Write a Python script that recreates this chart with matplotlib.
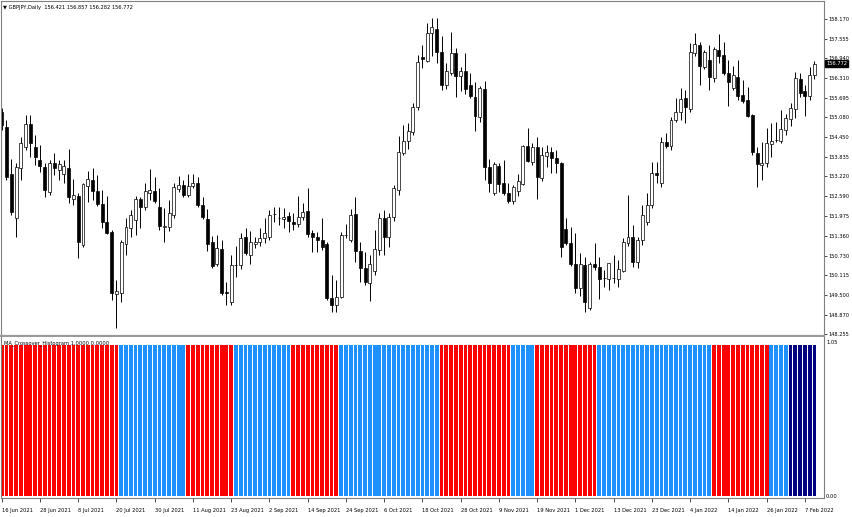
import numpy as np
import matplotlib
matplotlib.use("Agg")
import matplotlib.pyplot as plt

# --- 1. Data Setup (GBPJPY daily) ---
TITLE = "\u25bc GBPJPY,Daily  156.421 156.857 156.282 156.772"
IND_TITLE = "MA_Crossover_Histogram 1.0000 0.0000"

opens = [
    155.25, 154.77, 153.29, 151.91, 153.48, 154.14, 154.86, 154.14, 153.73, 153.51,
    152.73, 153.64, 153.42, 153.29, 153.48, 152.51, 152.60, 151.06, 152.92, 153.11,
    152.76, 152.35, 151.79, 151.47, 149.52, 149.55, 151.09, 151.60, 151.85, 152.51,
    152.26, 152.69, 152.76, 152.26, 151.63, 151.63, 152.00, 152.82, 152.95, 152.63,
    152.92, 153.01, 152.32, 151.88, 151.16, 150.47, 150.94, 149.58, 149.27, 150.43,
    150.43, 151.31, 150.75, 151.09, 151.16, 151.28, 151.31, 152.04, 151.91, 151.88,
    151.97, 151.79, 151.72, 151.94, 152.13, 151.44, 151.31, 151.22, 151.09, 149.39,
    149.17, 149.43, 151.38, 151.22, 152.04, 150.87, 150.34, 149.87, 150.24, 150.90,
    151.91, 151.31, 151.94, 152.79, 153.95, 154.33, 154.62, 155.40, 156.97, 156.85,
    157.73, 157.85, 157.13, 156.09, 156.47, 157.10, 156.38, 156.54, 156.09, 155.72,
    155.09, 155.97, 153.51, 152.69, 153.54, 153.01, 152.69, 152.45, 152.76, 152.98,
    154.18, 153.67, 154.14, 153.17, 153.86, 153.99, 153.80, 153.64, 151.56, 151.12,
    150.47, 149.71, 150.43, 149.08, 150.47, 150.37, 150.02, 149.99, 150.02, 149.99,
    150.24, 151.12, 151.31, 150.53, 151.22, 151.79, 152.32, 153.32, 153.01, 154.30,
    154.18, 154.99, 155.25, 155.68, 155.34, 157.10, 157.35, 156.66, 156.88, 156.32,
    157.19, 157.04, 156.47, 156.00, 156.35, 155.78, 155.62, 155.15, 153.95, 153.58,
    153.64, 154.24, 154.36, 154.33, 154.68, 155.03, 155.34, 156.28, 155.90, 155.75,
    156.421,
]
highs = [
    155.37, 154.99, 153.76, 153.64, 154.45, 155.15, 155.15, 154.52, 154.21, 153.64,
    153.73, 153.96, 153.73, 153.73, 154.08, 153.14, 152.69, 153.01, 153.39, 153.48,
    153.26, 152.79, 152.60, 151.53, 149.96, 151.22, 151.91, 152.16, 152.60, 152.57,
    153.01, 153.45, 153.20, 152.85, 152.23, 152.48, 153.01, 153.23, 153.11, 153.29,
    153.29, 153.20, 152.57, 152.19, 151.34, 151.38, 151.22, 149.90, 150.75, 151.03,
    151.44, 151.60, 151.50, 151.31, 151.60, 151.91, 152.16, 152.26, 152.26, 152.23,
    152.10, 152.07, 152.60, 152.38, 152.85, 151.53, 151.47, 151.91, 151.16, 150.12,
    149.96, 151.47, 151.72, 152.19, 152.57, 151.16, 150.84, 150.75, 151.53, 152.07,
    152.16, 152.07, 152.95, 154.49, 154.83, 154.90, 155.53, 157.04, 157.35, 158.05,
    158.20, 158.20, 157.63, 156.79, 157.76, 157.26, 156.66, 157.10, 156.47, 156.19,
    156.06, 156.22, 153.76, 153.67, 153.64, 153.73, 153.01, 152.95, 153.29, 154.21,
    154.74, 154.27, 154.46, 154.14, 154.21, 154.14, 154.05, 153.67, 151.91, 151.63,
    151.44, 150.81, 150.68, 150.53, 151.12, 150.68, 150.28, 150.50, 150.75, 150.59,
    151.28, 152.63, 151.69, 151.31, 152.32, 152.69, 153.67, 153.67, 154.46, 154.58,
    155.09, 155.68, 156.00, 155.94, 157.41, 157.73, 157.45, 157.19, 157.35, 157.29,
    157.70, 157.45, 156.88, 156.69, 156.88, 156.25, 156.03, 155.18, 154.14, 154.30,
    154.74, 154.90, 154.93, 155.31, 155.18, 155.53, 156.50, 156.47, 156.09, 156.66,
    156.857,
]
lows = [
    154.68, 153.11, 152.00, 151.31, 153.11, 154.05, 153.82, 153.57, 153.36, 152.57,
    152.63, 153.26, 153.11, 153.02, 152.39, 152.32, 150.65, 151.00, 152.42, 152.48,
    152.29, 151.60, 151.41, 149.33, 148.45, 149.27, 150.75, 151.31, 151.38, 151.60,
    152.16, 152.48, 152.39, 151.53, 151.16, 151.50, 151.91, 152.73, 152.57, 152.57,
    152.85, 152.26, 151.88, 150.87, 150.34, 150.40, 149.49, 149.17, 149.17, 150.06,
    150.31, 150.75, 150.47, 150.97, 151.03, 151.12, 151.22, 151.79, 151.69, 151.60,
    151.47, 151.53, 151.63, 151.85, 151.31, 150.84, 150.84, 150.90, 149.33, 148.95,
    148.95, 149.39, 151.28, 151.16, 150.53, 149.90, 149.80, 149.30, 150.12, 150.75,
    150.75, 151.00, 151.82, 152.63, 153.89, 154.08, 154.52, 155.31, 156.63, 156.82,
    157.00, 156.79, 155.94, 155.97, 156.41, 155.72, 155.91, 155.81, 155.68, 154.65,
    154.93, 153.11, 152.73, 152.63, 152.73, 152.63, 152.38, 152.35, 152.60, 152.95,
    153.67, 153.57, 152.51, 153.07, 153.51, 153.32, 153.32, 150.68, 151.06, 150.40,
    149.55, 149.46, 148.95, 149.02, 150.28, 149.36, 149.74, 149.65, 149.87, 149.74,
    150.21, 151.03, 150.37, 150.34, 151.06, 151.69, 152.23, 153.01, 152.89, 154.11,
    154.05, 154.93, 154.99, 154.90, 155.25, 157.00, 156.09, 156.60, 155.94, 156.19,
    156.79, 156.41, 155.43, 155.94, 155.62, 155.53, 155.09, 153.89, 152.89, 153.11,
    153.51, 153.82, 154.30, 154.27, 154.52, 154.80, 155.06, 155.72, 155.12, 155.62,
    156.282,
]
closes = [
    154.83, 153.20, 152.10, 153.51, 154.27, 154.86, 154.27, 153.82, 153.54, 152.79,
    153.64, 153.48, 153.61, 153.54, 152.57, 152.63, 151.16, 152.98, 153.14, 152.76,
    152.35, 151.79, 151.44, 149.55, 149.62, 151.16, 151.63, 152.00, 152.51, 152.26,
    152.76, 152.79, 152.45, 151.66, 151.66, 152.07, 152.89, 152.95, 152.63, 152.92,
    153.01, 152.32, 151.94, 151.09, 150.40, 150.97, 149.55, 149.55, 150.43, 150.44,
    151.28, 150.81, 151.16, 151.16, 151.28, 151.44, 152.00, 152.03, 151.90, 151.94,
    151.82, 151.72, 151.94, 152.10, 151.41, 151.31, 151.22, 151.00, 149.39, 149.17,
    149.43, 151.38, 151.39, 152.00, 150.87, 150.34, 149.90, 150.47, 150.94, 151.91,
    151.31, 151.94, 152.85, 153.99, 154.33, 154.65, 155.40, 156.82, 156.91, 157.73,
    157.92, 157.13, 156.09, 156.54, 157.10, 156.38, 156.54, 155.97, 155.75, 155.12,
    156.00, 153.51, 153.01, 153.61, 152.98, 152.69, 152.45, 152.89, 153.07, 154.18,
    153.70, 154.14, 153.20, 153.89, 153.99, 153.80, 153.64, 151.00, 151.12, 150.47,
    149.71, 150.47, 149.27, 150.47, 150.37, 149.99, 150.01, 150.50, 150.01, 150.31,
    151.16, 151.31, 150.53, 151.22, 152.00, 152.32, 153.32, 153.26, 154.30, 154.18,
    154.99, 155.25, 155.65, 155.40, 157.13, 157.38, 156.69, 157.13, 156.35, 157.23,
    157.00, 156.47, 156.19, 156.41, 155.75, 155.59, 155.12, 153.99, 153.61, 153.64,
    154.27, 154.33, 154.37, 154.71, 155.06, 155.37, 156.32, 155.84, 155.75, 156.41,
    156.772,
]

# histogram state runs (bar counts), value is always 1.0
hist_runs = [("down", 25), ("up", 14), ("down", 10), ("up", 12), ("down", 10),
             ("up", 21), ("down", 15), ("up", 5), ("down", 13), ("up", 24),
             ("down", 12), ("up", 4), ("flat", 6)]
hist_value = 1.0

price_ticks = [158.170, 157.555, 156.940, 156.310, 155.695, 155.080, 154.450, 153.835,
               153.220, 152.590, 151.975, 151.360, 150.730, 150.115, 149.500, 148.870,
               148.255]
date_labels = ["16 Jun 2021", "28 Jun 2021", "8 Jul 2021", "20 Jul 2021", "30 Jul 2021",
               "11 Aug 2021", "23 Aug 2021", "2 Sep 2021", "14 Sep 2021", "24 Sep 2021",
               "6 Oct 2021", "18 Oct 2021", "28 Oct 2021", "9 Nov 2021", "19 Nov 2021",
               "1 Dec 2021", "13 Dec 2021", "23 Dec 2021", "4 Jan 2022", "14 Jan 2022",
               "26 Jan 2022", "7 Feb 2022"]
date_step = 8  # one label every 8 bars
last_price = 156.772

# --- 2. Layout ---
W, H = 852, 517
FS = 3.7
GRID = "#808080"
state_colors = {"down": "#ff0000", "up": "#1e90ff", "flat": "#000080"}


def box(x0, y0, x1, y1):
    # pixel box (top-left origin) -> figure fraction rect
    return [x0 / W, 1 - y1 / H, (x1 - x0) / W, (y1 - y0) / H]


fig = plt.figure(figsize=(W / 100, H / 100), dpi=100)
ax = fig.add_axes(box(1, 1, 824, 336))
ax2 = fig.add_axes(box(1, 337, 824, 498), sharex=ax)

o = np.array(opens)
h = np.array(highs)
lo = np.array(lows)
c = np.array(closes)
x = np.arange(len(o))
up = c >= o

# --- 3. Candles ---
ax.vlines(x, lo, h, color="black", linewidth=0.7, zorder=1)
bottom = np.minimum(o, c)
height = np.maximum(np.abs(c - o), 0.012)
ax.bar(x[up], height[up], bottom=bottom[up], width=0.62, color="white",
       edgecolor="black", linewidth=0.5, zorder=2)
ax.bar(x[~up], height[~up], bottom=bottom[~up], width=0.62, color="black",
       edgecolor="black", linewidth=0.5, zorder=2)

ax.set_xlim(-0.15, 172.0)
ax.set_ylim(148.20, 158.74)
ax.yaxis.tick_right()
ax.set_yticks(price_ticks)
ax.set_yticklabels([f"{p:.3f}" for p in price_ticks])
ax.tick_params(axis="y", length=2, width=0.5, pad=1, labelsize=FS, colors="black")
ax.tick_params(axis="x", bottom=False, labelbottom=False)
for s in ["left", "top", "right"]:
    ax.spines[s].set_color(GRID)
    ax.spines[s].set_linewidth(0.8)
ax.spines["bottom"].set_color("#9a9a9a")
ax.spines["bottom"].set_linewidth(1.6)

ax.annotate(f"{last_price:.3f}", xy=(1, last_price), xycoords=("axes fraction", "data"),
            xytext=(1.6, 0), textcoords="offset points", ha="left", va="center",
            fontsize=FS, color="white", annotation_clip=False, zorder=10,
            bbox=dict(boxstyle="square,pad=0.2", fc="black", ec="black"))

# --- 4. Histogram ---
states = [s for s, n in hist_runs for _ in range(n)]
ax2.bar(x, [hist_value] * len(states), width=0.8,
        color=[state_colors[s] for s in states], linewidth=0)
ax2.set_ylim(-0.01, 1.053)
ax2.set_yticks([])
ax2.set_xticks(np.arange(len(date_labels)) * date_step)
ax2.set_xticklabels(date_labels, ha="left")
ax2.tick_params(axis="x", length=3, width=0.5, pad=4, labelsize=FS, colors="black")
ax2.spines["top"].set_visible(False)
for s in ["left", "bottom", "right"]:
    ax2.spines[s].set_color(GRID)
    ax2.spines[s].set_linewidth(0.8)

# --- 5. Texts ---
fig.text(3 / W, 1 - 7 / H, TITLE, fontsize=FS, va="center", ha="left")
fig.text(4 / W, 1 - 343 / H, IND_TITLE, fontsize=FS, va="center", ha="left")
fig.text(826 / W, 1 - 342 / H, "1.05", fontsize=FS, va="center", ha="left")
fig.text(826 / W, 1 - 496 / H, "0.00", fontsize=FS, va="center", ha="left")

fig.savefig("out.png", dpi=100)
